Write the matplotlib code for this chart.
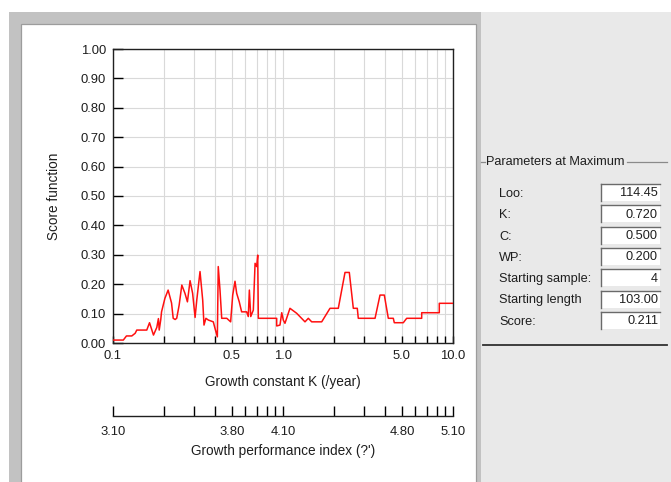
import numpy as np
import matplotlib
matplotlib.use('Agg')
import matplotlib.pyplot as plt
from matplotlib.patches import Rectangle
from matplotlib.lines import Line2D
from matplotlib.ticker import FixedLocator, FixedFormatter, NullFormatter

plt.rcParams['font.family'] = ['Liberation Sans', 'DejaVu Sans']

# ── score function scan over K ───────────────────────────────────────────────
K_VALUES = [
    0.100, 0.115, 0.120, 0.129, 0.135, 0.138, 0.150, 0.158, 0.164, 0.173,
    0.181, 0.185, 0.187, 0.191, 0.193, 0.202, 0.211, 0.221, 0.226, 0.232,
    0.237, 0.245, 0.254, 0.265, 0.274, 0.284, 0.294, 0.304, 0.311, 0.325,
    0.337, 0.343, 0.352, 0.364, 0.389, 0.398, 0.411, 0.416, 0.426, 0.436,
    0.467, 0.492, 0.506, 0.522, 0.534, 0.553, 0.571, 0.611, 0.625, 0.634,
    0.646, 0.669, 0.685, 0.700, 0.710, 0.716, 0.918, 0.918, 0.960, 0.983,
    1.004, 1.027, 1.099, 1.204, 1.347, 1.409, 1.475, 1.689, 1.890, 2.115,
    2.316, 2.455, 2.592, 2.735, 2.773, 3.479, 3.721, 3.944, 4.164, 4.455,
    4.516, 5.100, 5.340, 6.544, 6.544, 8.305, 8.305, 10.00,
]
SCORES = [
    0.010, 0.010, 0.024, 0.024, 0.033, 0.044, 0.044, 0.044, 0.069, 0.027,
    0.053, 0.083, 0.044, 0.080, 0.106, 0.152, 0.180, 0.136, 0.084, 0.080,
    0.084, 0.129, 0.197, 0.169, 0.140, 0.212, 0.169, 0.087, 0.146, 0.243,
    0.146, 0.061, 0.084, 0.078, 0.072, 0.050, 0.021, 0.260, 0.180, 0.084,
    0.084, 0.072, 0.163, 0.210, 0.169, 0.140, 0.106, 0.106, 0.090, 0.180,
    0.090, 0.112, 0.271, 0.260, 0.299, 0.084, 0.084, 0.058, 0.061, 0.103,
    0.078, 0.067, 0.118, 0.101, 0.072, 0.084, 0.072, 0.072, 0.118, 0.118,
    0.240, 0.240, 0.118, 0.118, 0.084, 0.084, 0.163, 0.163, 0.084, 0.084,
    0.069, 0.069, 0.084, 0.084, 0.103, 0.103, 0.135, 0.135,
]

K_MAJOR = [0.1, 0.5, 1.0, 5.0, 10.0]
K_MAJOR_LABELS = ['0.1', '0.5', '1.0', '5.0', '10.0']
K_MINOR = [0.2, 0.3, 0.4, 0.6, 0.7, 0.8, 0.9, 2, 3, 4, 6, 7, 8, 9]
PHI_MAJOR = [3.10, 3.80, 4.10, 4.80, 5.10]
PHI_OFFSET = 4.10          # phi' = log10(K) + 2*log10(Loo)
Y_TICKS = [0.0, 0.1, 0.2, 0.3, 0.4, 0.5, 0.6, 0.7, 0.8, 0.9, 1.0]

PARAM_NAMES = ['Loo:', 'K:', 'C:', 'WP:', 'Starting sample:',
               'Starting length', 'Score:']
PARAM_VALUES = ['114.45', '0.720', '0.500', '0.200', '4', '103.00', '0.211']

# ── figure in pixel units ────────────────────────────────────────────────────
W, H = 671, 482
fig = plt.figure(figsize=(W / 100, H / 100), dpi=100)
TXT = '#1e1e1e'
FS_TICK = 9.4
FS_LABEL = 9.8
FS_PANEL = 9.2


def rect(x0, y0, x1, y1, **kw):
    kw.setdefault('zorder', -5)
    fig.patches.append(Rectangle((x0 / W, 1 - y1 / H), (x1 - x0) / W,
                                 (y1 - y0) / H, transform=fig.transFigure, **kw))


def hline(x0, x1, y, **kw):
    fig.lines.append(Line2D([x0 / W, x1 / W], [1 - y / H, 1 - y / H],
                            transform=fig.transFigure, **kw))


def vline(x, y0, y1, **kw):
    fig.lines.append(Line2D([x / W, x / W], [1 - y0 / H, 1 - y1 / H],
                            transform=fig.transFigure, **kw))


# window chrome
rect(9, 12, 481, 482, facecolor='#c2c2c2', edgecolor='none')
rect(481, 12, 671, 482, facecolor='#e9e9e9', edgecolor='none')
rect(21, 24, 476, 483, facecolor='white', edgecolor='#9c9c9c', linewidth=0.9)

# ── main plot ────────────────────────────────────────────────────────────────
ax = fig.add_axes([113 / W, 1 - 343 / H, 340 / W, 294 / H])
ax.set_facecolor('none')
ax.plot(K_VALUES, SCORES, color='#ff1010', linewidth=1.1, zorder=3)

ax.set_xscale('log')
ax.set_xlim(0.1, 10)
ax.set_ylim(0, 1)

ax.xaxis.set_major_locator(FixedLocator(K_MAJOR))
ax.xaxis.set_major_formatter(FixedFormatter(K_MAJOR_LABELS))
ax.xaxis.set_minor_locator(FixedLocator(K_MINOR))
ax.xaxis.set_minor_formatter(NullFormatter())
ax.set_yticks(Y_TICKS)
ax.set_yticklabels([f'{v:.2f}' for v in Y_TICKS])

ax.grid(True, which='both', color='#d9d9d9', linewidth=0.8, zorder=0)
ax.set_axisbelow(True)
ax.tick_params(axis='x', which='both', direction='in', length=5, width=1.0,
               top=False, labelsize=FS_TICK, labelcolor=TXT, pad=5)
ax.tick_params(axis='y', direction='in', length=7, width=1.0, right=False,
               labelsize=FS_TICK, labelcolor=TXT, pad=5)
for spine in ax.spines.values():
    spine.set_linewidth(1.0)
    spine.set_color('#202020')

ax.set_xlabel('Growth constant K (/year)', fontsize=FS_LABEL, color=TXT,
              labelpad=9.5)
ax.set_ylabel('Score function', fontsize=FS_LABEL, color=TXT)
ax.yaxis.set_label_coords(-0.152, 0.5)

# growth performance index scale under the K axis
sec = ax.secondary_xaxis(
    -73 / 294,
    functions=(lambda k: PHI_OFFSET + np.log10(np.clip(k, 1e-9, None)),
               lambda p: 10 ** (p - PHI_OFFSET)))
sec.xaxis.set_major_locator(FixedLocator(PHI_MAJOR))
sec.xaxis.set_major_formatter(FixedFormatter([f'{p:.2f}' for p in PHI_MAJOR]))
sec.xaxis.set_minor_locator(FixedLocator([PHI_OFFSET + np.log10(k) for k in K_MINOR]))
sec.xaxis.set_minor_formatter(NullFormatter())
sec.tick_params(axis='x', which='both', direction='in', length=7, width=1.0,
                labelsize=FS_TICK, labelcolor=TXT, pad=7)
sec.spines['bottom'].set_linewidth(1.0)
sec.spines['bottom'].set_color('#202020')
sec.set_xlabel("Growth performance index (?')", fontsize=FS_LABEL, color=TXT,
               labelpad=4.5)

# ── parameters panel ─────────────────────────────────────────────────────────
GB = '#8a8a8a'
hline(481, 485, 162, color=GB, linewidth=0.9)
hline(627, 667, 162, color=GB, linewidth=0.9)
hline(483, 667, 345, color='#303030', linewidth=1.3)
fig.text(486 / W, 1 - 162 / H, 'Parameters at Maximum', fontsize=FS_PANEL,
         color=TXT, va='center', ha='left')

box_tops = [184, 205, 226.5, 248, 269, 290.5, 312]
for top, name, val in zip(box_tops, PARAM_NAMES, PARAM_VALUES):
    bottom = top + 17
    rect(601, top, 660, bottom, facecolor='white', edgecolor='none', zorder=1)
    hline(601, 660, top, color='#6a6a6a', linewidth=1.0)
    vline(601, top, bottom, color='#6a6a6a', linewidth=1.0)
    fig.text(499 / W, 1 - (top + 10) / H, name, fontsize=FS_PANEL,
             color=TXT, va='center', ha='left')
    fig.text(658 / W, 1 - (top + 9.5) / H, val, fontsize=FS_PANEL, color=TXT,
             va='center', ha='right')

fig.savefig('out.png', dpi=100)
